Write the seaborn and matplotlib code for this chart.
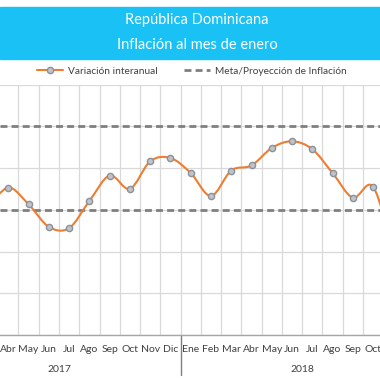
import numpy as np
import seaborn as sns
import matplotlib.pyplot as plt
from matplotlib.path import Path
from matplotlib.patches import PathPatch

# Data: year-on-year inflation (%), Mar 2017 - Nov 2018
meses = ['Mar', 'Abr', 'May', 'Jun', 'Jul', 'Ago', 'Sep', 'Oct', 'Nov', 'Dic',
         'Ene', 'Feb', 'Mar', 'Abr', 'May', 'Jun', 'Jul', 'Ago', 'Sep', 'Oct', 'Nov']
variacion = [3.05, 3.53, 3.13, 2.59, 2.56, 3.21, 3.82, 3.50, 4.16, 4.24,
             3.88, 3.33, 3.94, 4.06, 4.48, 4.64, 4.45, 3.88, 3.29, 3.55, 2.00]
meta = [3, 5]
anios = ['2017', '2018']
anio_centro = [3.5, 15.5]

sns.set_theme(style='white')
plt.rcParams['font.family'] = ['Lato', 'DejaVu Sans']

x = np.arange(len(variacion))
y = np.array(variacion)

fig = plt.figure(figsize=(3.8, 3.8), dpi=100)
ax = fig.add_axes([0, 1 - 335 / 380, 1, 250.5 / 380])

# smooth line (Excel-style bezier through points)
verts = [(x[0], y[0])]
codes = [Path.MOVETO]
for i in range(len(x) - 1):
    p0 = np.array([x[max(i - 1, 0)], y[max(i - 1, 0)]])
    p1 = np.array([x[i], y[i]])
    p2 = np.array([x[i + 1], y[i + 1]])
    p3 = np.array([x[min(i + 2, len(x) - 1)], y[min(i + 2, len(x) - 1)]])
    c1 = p1 + (p2 - p0) / 6
    c2 = p2 - (p3 - p1) / 6
    verts += [tuple(c1), tuple(c2), tuple(p2)]
    codes += [Path.CURVE4] * 3
ax.add_patch(PathPatch(Path(verts, codes), fill=False, edgecolor='#ED7D31', lw=1.5, zorder=3))

sns.scatterplot(x=x, y=y, ax=ax, s=20, color='#BFC4CC', edgecolor='#8C9097',
                linewidth=1.0, zorder=4, legend=False)

for m in meta:
    ax.axhline(m, color='#7F7F7F', lw=2, ls=(0, (2.5, 1.5)), zorder=2)

ax.set_yticks(range(0, 7))
ax.set_yticklabels([])
ax.set_xticks(x)
ax.set_xticklabels(meses, fontsize=7.5, color='#404040')
ax.set_xticks(x + 0.5, minor=True)
ax.set_xlim(0.59, 19.34)
ax.set_ylim(0, 6)
ax.tick_params(axis='x', which='both', length=0, pad=7)
ax.tick_params(axis='y', length=0)
ax.grid(True, axis='y', which='major', color='#D9D9D9', lw=0.9)
ax.grid(True, axis='x', which='minor', color='#D9D9D9', lw=0.9)
for s in ['top', 'left', 'right']:
    ax.spines[s].set_visible(False)
ax.spines['bottom'].set_color('#A6A6A6')
ax.spines['bottom'].set_linewidth(1.0)

# year separator and labels
ax.plot([9.5, 9.5], [0, -0.16], transform=ax.get_xaxis_transform(),
        color='#7F7F7F', lw=1.0, clip_on=False)
for a, c in zip(anios, anio_centro):
    ax.text(c, -0.137, a, transform=ax.get_xaxis_transform(), ha='center',
            va='center', fontsize=7.5, color='#404040')

# title band
fig.patches.append(plt.Rectangle((0, 1 - 59 / 380), 1, 52 / 380, transform=fig.transFigure,
                                 color='#19C1F5', zorder=0))
fig.text(0.519, 0.947, 'República Dominicana', ha='center', va='center',
         color='white', fontsize=10.5)
fig.text(0.519, 0.882, 'Inflación al mes de enero', ha='center', va='center',
         color='white', fontsize=10.5)

# legend
h1 = plt.Line2D([], [], color='#ED7D31', lw=1.5, marker='o', markersize=4.5,
                markerfacecolor='#BFC4CC', markeredgecolor='#8C9097')
h2 = plt.Line2D([], [], color='#7F7F7F', lw=2, ls=(0, (2.5, 1.5)))
fig.legend([h1, h2], ['Variación interanual', 'Meta/Proyección de Inflación'],
           loc='center', bbox_to_anchor=(0.505, 0.813), ncol=2, frameon=False,
           fontsize=7.3, handlelength=2.6, handletextpad=0.5, columnspacing=2.6,
           labelcolor='#404040')

fig.savefig('out.png', dpi=100)
